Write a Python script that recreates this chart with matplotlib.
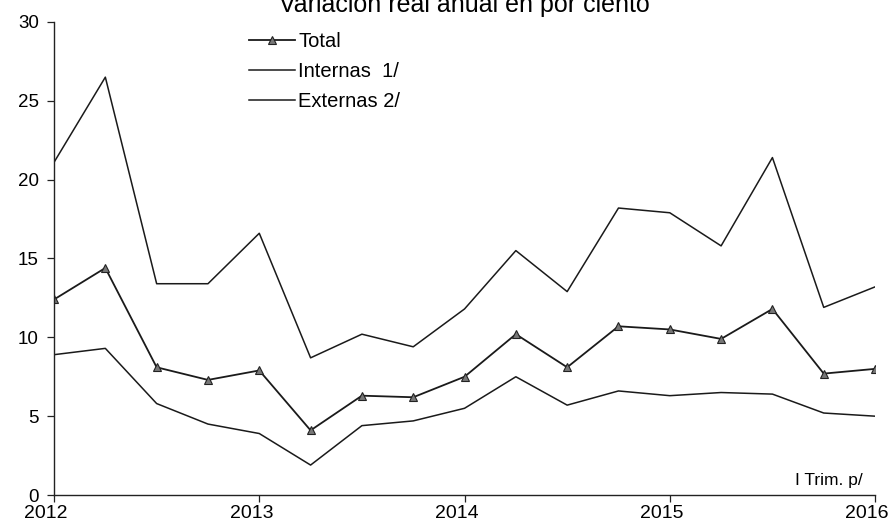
#!/usr/bin/env python3
import matplotlib
matplotlib.use('Agg')
import matplotlib.pyplot as plt
import matplotlib.transforms as mtransforms

# quarterly points, I Trim 2012 .. I Trim 2016
quarters = [2012 + i * 0.25 for i in range(17)]
internas = [21.1, 26.5, 13.4, 13.4, 16.6, 8.7, 10.2, 9.4, 11.8,
            15.5, 12.9, 18.2, 17.9, 15.8, 21.4, 11.9, 13.2]
total = [12.4, 14.4, 8.1, 7.3, 7.9, 4.1, 6.3, 6.2, 7.5,
         10.2, 8.1, 10.7, 10.5, 9.9, 11.8, 7.7, 8.0]
externas = [8.9, 9.3, 5.8, 4.5, 3.9, 1.9, 4.4, 4.7, 5.5,
            7.5, 5.7, 6.6, 6.3, 6.5, 6.4, 5.2, 5.0]
year_ticks = [2012, 2013, 2014, 2015, 2016]
y_ticks = [0, 5, 10, 15, 20, 25, 30]

plt.rcParams['font.family'] = ['Liberation Sans', 'DejaVu Sans']

fig = plt.figure(figsize=(8.9, 5.23), dpi=100)
ax = fig.add_axes([0.0607, 0.0535, 0.9225, 0.9045])

ax.plot(quarters, total, color='#1a1a1a', lw=1.3, marker='^', ms=6,
        mfc='#777777', mec='#222222', mew=0.8, label='Total')
ax.plot(quarters, internas, color='#1a1a1a', lw=1.1, label='Internas  1/')
ax.plot(quarters, externas, color='#1a1a1a', lw=1.1, label='Externas 2/')

ax.set_xlim(2012, 2016)
ax.set_ylim(0, 30)
ax.set_xticks(year_ticks)
ax.set_xticklabels([str(y) for y in year_ticks])
ax.set_yticks(y_ticks)
ax.tick_params(axis='both', length=5, width=0.9, color='#222222')
ax.tick_params(axis='y', labelsize=13.5, pad=6)
ax.tick_params(axis='x', labelsize=14, pad=2.5)
# x labels sit a little left of their ticks
shift = mtransforms.ScaledTranslation(-8 / 100, 0, fig.dpi_scale_trans)
for lab in ax.get_xticklabels():
    lab.set_transform(lab.get_transform() + shift)
for side in ['top', 'right']:
    ax.spines[side].set_visible(False)
for side in ['left', 'bottom']:
    ax.spines[side].set_linewidth(1.0)
    ax.spines[side].set_color('#222222')

leg = ax.legend(loc='upper left', bbox_to_anchor=(0.215, 1.018), frameon=False,
                fontsize=14.5, handlelength=2.3, handletextpad=0.15,
                labelspacing=0.55)

ax.text(0.985, 0.015, 'I Trim. p/', transform=ax.transAxes, ha='right',
        va='bottom', fontsize=12.5)

fig.text(0.522, 0.977, 'Variación real anual en por ciento', ha='center',
         va='baseline', fontsize=18)

fig.savefig('out.png', dpi=100)
